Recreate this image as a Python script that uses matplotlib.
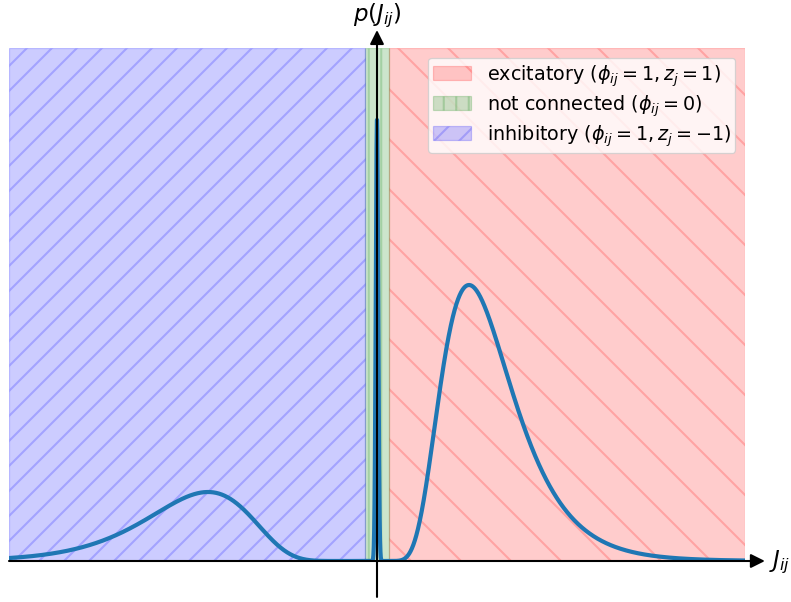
import numpy as np
import matplotlib
matplotlib.use("Agg")
import matplotlib.pyplot as plt

# couplages J_ij : trois populations
x_min, x_max = -3.0, 3.0
seuil_connexion = 0.1          # |J| < seuil -> pas de connexion

# pic central (pas de connexion)
pic_hauteur = 0.862
pic_sigma = 0.01

# excitateur : log-normale, mode et largeur (en log)
exc_mode = 0.75
exc_s = 0.39
exc_hauteur = 0.538

# inhibiteur : log-normale miroir
inh_mode = 1.378
inh_s = 0.31
inh_hauteur = 0.1345

labels = [r"excitatory ($\phi_{ij}=1, z_j=1$)",
          r"not connected ($\phi_{ij}=0$)",
          r"inhibitory ($\phi_{ij}=1, z_j=-1$)"]


def lognorm_forme(x, mode, s, hauteur):
    out = np.zeros_like(x)
    pos = x > 0
    out[pos] = hauteur * np.exp(-(np.log(x[pos]) - np.log(mode))**2 / (2 * s**2))
    return out


J = np.linspace(x_min, x_max, 4000)
p = (pic_hauteur * np.exp(-J**2 / (2 * pic_sigma**2))
     + lognorm_forme(J, exc_mode, exc_s, exc_hauteur)
     + lognorm_forme(-J, inh_mode, inh_s, inh_hauteur))

fig = plt.figure(figsize=(791 / 150, 603 / 150), dpi=150)
ax = fig.add_axes([9 / 791, 41 / 603, 736 / 791, 513 / 603])

# zones
ax.axvspan(seuil_connexion, x_max, facecolor="red", edgecolor="red", alpha=0.2,
           hatch="\\", lw=0.6, label=labels[0])
ax.axvspan(-seuil_connexion, seuil_connexion, facecolor="green", edgecolor="green",
           alpha=0.2, hatch="||", lw=0.6, label=labels[1])
ax.axvspan(x_min, -seuil_connexion, facecolor="blue", edgecolor="blue", alpha=0.2,
           hatch="//", lw=0.6, label=labels[2])

ax.plot(J, p, color="C0", lw=2)

ax.set_xlim(x_min, x_max)
ax.set_ylim(0, 1)
ax.axis("off")

# axes avec fleches
fleche = dict(arrowstyle="-|>", color="k", lw=1, mutation_scale=14,
              shrinkA=0, shrinkB=0)
ax.annotate("", xy=(1.027, 0), xytext=(0, 0), xycoords="axes fraction",
            arrowprops=fleche, annotation_clip=False)
ax.annotate("", xy=(0.5, 1.035), xytext=(0.5, -0.07), xycoords="axes fraction",
            arrowprops=fleche, annotation_clip=False)
ax.text(1.032, 0.0, r"$J_{ij}$", transform=ax.transAxes, fontsize=11,
        ha="left", va="center")
ax.text(0.5, 1.038, r"$p(J_{ij})$", transform=ax.transAxes, fontsize=11,
        ha="center", va="bottom")

leg = ax.legend(loc="upper right", fontsize=9.2, labelspacing=0.235,
                borderpad=0.25)
leg.get_frame().set_linewidth(0.6)

fig.savefig("out.png", dpi=150)
